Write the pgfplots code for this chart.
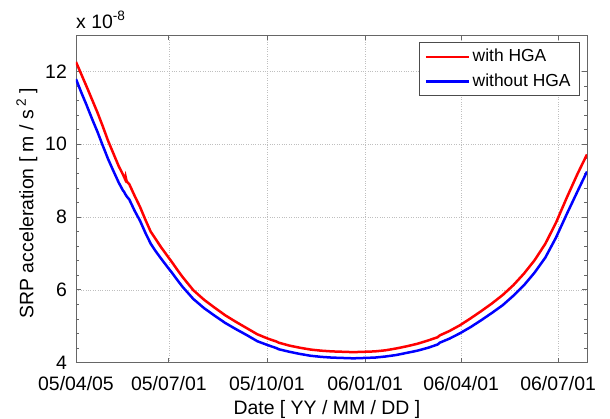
\documentclass[border=0pt]{standalone}
\usepackage{fontspec}
\setmainfont{Liberation Sans}
\usepackage{pgfplots}
\pgfplotsset{compat=1.18}
\usepackage{pgfplotstable}

\pgfplotstableread{
day val
0 12.26
5 11.92
10 11.58
15 11.23
20 10.88
25 10.50
30 10.10
35 9.75
40 9.40
44 9.17
46 9.04
46.5 9.11
47.5 8.98
50 8.90
55 8.58
60 8.28
65 7.93
70 7.60
75 7.38
80 7.16
87 6.88
90 6.76
95 6.55
100 6.35
110 5.99
120 5.73
130 5.51
140 5.30
150 5.12
160 4.95
170 4.78
180 4.66
188 4.58
190 4.55
200 4.47
210 4.41
220 4.36
230 4.33
240 4.31
250 4.30
260 4.29
270 4.30
280 4.31
290 4.34
300 4.39
310 4.45
320 4.52
330 4.61
339 4.70
341 4.75
350 4.87
360 5.03
370 5.22
380 5.42
390 5.63
400 5.86
410 6.13
420 6.45
430 6.82
440 7.27
450 7.85
460 8.53
470 9.18
479 9.72
}\withHGA

\pgfplotstableread{
day val
0 11.79
5 11.42
10 11.07
15 10.70
20 10.35
25 9.97
30 9.60
35 9.27
40 8.95
44 8.73
45 8.70
46 8.64
47.5 8.57
50 8.48
55 8.17
60 7.90
65 7.57
70 7.27
75 7.05
80 6.85
87 6.58
90 6.47
95 6.27
100 6.08
110 5.75
120 5.50
130 5.29
140 5.09
150 4.92
160 4.76
170 4.59
180 4.48
188 4.40
190 4.37
200 4.30
210 4.24
220 4.19
230 4.16
240 4.14
250 4.13
260 4.12
270 4.13
280 4.14
290 4.17
300 4.21
310 4.27
320 4.33
330 4.41
339 4.50
341 4.55
350 4.66
360 4.81
370 4.98
380 5.17
390 5.37
400 5.58
410 5.84
420 6.13
430 6.48
440 6.89
450 7.44
460 8.08
470 8.70
479 9.25
}\withoutHGA

\begin{document}
\fontsize{19.5}{23}\selectfont
\begin{tikzpicture}
\useasboundingbox (-76bp,-56.3bp) rectangle (534bp,362.7bp);
\begin{axis}[
  name=ax,
  at={(0,0)}, anchor=south west,
  scale only axis, width=511bp, height=327.7bp,
  xmin=0, xmax=479, ymin=4, ymax=13,
  xtick={0,87,179,271,361,452},
  xticklabels={05/04/05,05/07/01,05/10/01,06/01/01,06/04/01,06/07/01},
  ytick={4,6,8,10,12},
  minor y tick num=4,
  xmajorgrids, ymajorgrids,
  major grid style={dotted, black!25, line width=0.6bp},
  axis line style={black!60, line width=0.8bp},
  tick style={black!60, line width=0.8bp},
  major tick length=5bp, minor tick length=3bp,
  /pgf/number format/assume math mode=true,
  yticklabel style={xshift=-2.5bp},
  xticklabel style={yshift=-6.8bp},
  xlabel={Date [ YY / MM / DD ]},
  xlabel style={at={(axis description cs:0.491,-0.159)}, anchor=base},
  ylabel={SRP acceleration [ m / s\,\textsuperscript{2} ]},
  ylabel style={at={(axis description cs:-0.096,0.487)}, anchor=center},
  legend image code/.code={\draw[#1, line width=2.5bp] (0bp,0bp) -- (43bp,0bp);},
  legend cell align=left,
  legend style={at={(axis description cs:1,1)}, anchor=north east,
    xshift=-7.7bp, yshift=-7.3bp,
    font=\fontsize{17.5}{21}\selectfont,
    draw=black!70, line width=0.8bp,
    inner xsep=5.8bp, inner ysep=2bp, row sep=0bp,
    nodes={inner sep=2.5bp, text height=0.75em, text depth=0.25em}},
]
\addplot[red, line width=2.5bp] table[x=day, y=val] {\withHGA};
\addlegendentry{with HGA}
\addplot[blue, line width=2.5bp] table[x=day, y=val] {\withoutHGA};
\addlegendentry{without HGA}
\end{axis}
\node[anchor=base west, inner sep=0pt, yshift=6.7bp] at (ax.north west) {x 10\textsuperscript{-8}};
\end{tikzpicture}
\end{document}
